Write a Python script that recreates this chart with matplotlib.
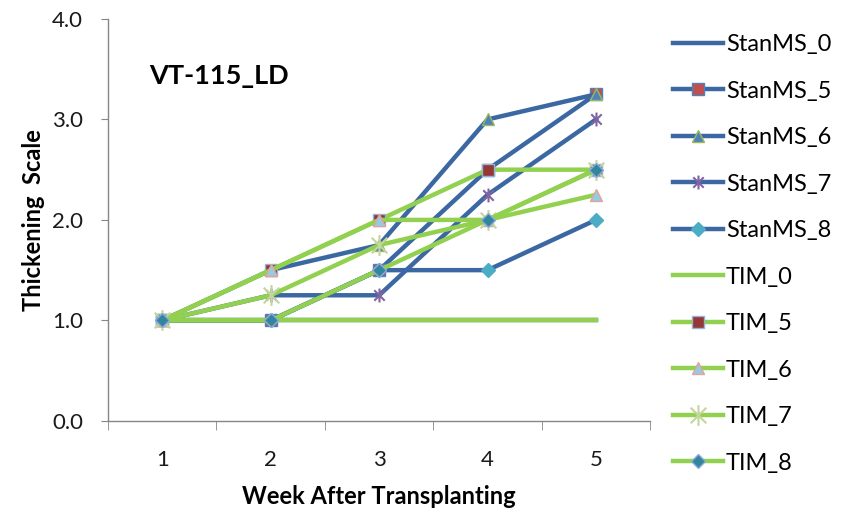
import matplotlib
matplotlib.use("Agg")
import matplotlib.pyplot as plt
from matplotlib.path import Path
from matplotlib.ticker import FixedLocator

plt.rcParams["font.family"] = ["Lato", "DejaVu Sans"]

weeks = [1, 2, 3, 4, 5]
stan_ms_0 = [1.0, 1.0, 1.0, 1.0, 1.0]
stan_ms_5 = [1.0, 1.0, 1.5, 2.5, 3.25]
stan_ms_6 = [1.0, 1.5, 1.75, 3.0, 3.25]
stan_ms_7 = [1.0, 1.25, 1.25, 2.25, 3.0]
stan_ms_8 = [1.0, 1.0, 1.5, 1.5, 2.0]
tim_0 = [1.0, 1.0, 1.0, 1.0, 1.0]
tim_5 = [1.0, 1.5, 2.0, 2.5, 2.5]
tim_6 = [1.0, 1.5, 2.0, 2.0, 2.25]
tim_7 = [1.0, 1.25, 1.75, 2.0, 2.5]
tim_8 = [1.0, 1.0, 1.5, 2.0, 2.5]

# Excel-style asterisk: vertical bar plus an X
star = Path(
    [(0, -1), (0, 1), (-0.75, -0.75), (0.75, 0.75), (-0.75, 0.75), (0.75, -0.75)],
    [Path.MOVETO, Path.LINETO, Path.MOVETO, Path.LINETO, Path.MOVETO, Path.LINETO],
)

BLUE = "#3b68a3"
GREEN = "#92d050"

series = [
    ("StanMS_0", stan_ms_0, BLUE, dict(marker="None")),
    ("StanMS_5", stan_ms_5, BLUE, dict(marker="s", ms=8, mfc="#c0504d", mec="#4f81bd")),
    ("StanMS_6", stan_ms_6, BLUE, dict(marker="^", ms=9, mfc="#4f81bd", mec="#9bbb59")),
    ("StanMS_7", stan_ms_7, BLUE, dict(marker=star, ms=10, mfc="#8064a2", mec="#8064a2", mew=1.5)),
    ("StanMS_8", stan_ms_8, BLUE, dict(marker="D", ms=7, mfc="#4bacc6", mec="#4bacc6")),
    ("TIM_0", tim_0, GREEN, dict(marker="None")),
    ("TIM_5", tim_5, GREEN, dict(marker="s", ms=8, mfc="#953735", mec="#95b3d7")),
    ("TIM_6", tim_6, GREEN, dict(marker="^", ms=9, mfc="#93cddd", mec="#e6a0a0")),
    ("TIM_7", tim_7, GREEN, dict(marker=star, ms=15, mfc="#c3d69b", mec="#c3d69b", mew=1.5)),
    ("TIM_8", tim_8, GREEN, dict(marker="D", ms=7, mfc="#31859c", mec="#8ea9db")),
]

fig = plt.figure(figsize=(8.51, 5.12), dpi=100)
ax = fig.add_axes([0.127, 0.178, 0.637, 0.785])

for name, vals, color, mk in series:
    ax.plot(weeks, vals, color=color, lw=3.2, label=name, **mk)

ax.set_xlim(0.5, 5.5)
ax.set_ylim(0, 4)
ax.set_xticks(weeks)
ax.xaxis.set_minor_locator(FixedLocator([0.5, 1.5, 2.5, 3.5, 4.5, 5.5]))
ax.set_yticks([0, 1, 2, 3, 4])
ax.set_yticklabels(["0.0", "1.0", "2.0", "3.0", "4.0"])

for side in ["top", "right"]:
    ax.spines[side].set_visible(False)
for side in ["left", "bottom"]:
    ax.spines[side].set_color("#868686")
    ax.spines[side].set_linewidth(1.0)

ax.tick_params(axis="x", which="major", length=0, pad=21, labelsize=16, colors="#1a1a1a")
ax.tick_params(axis="x", which="minor", length=6.5, color="#868686")
ax.tick_params(axis="y", length=5, pad=13, labelsize=16, color="#868686", labelcolor="#1a1a1a")

ax.set_xlabel("Week After Transplanting", fontsize=17, fontweight="bold", labelpad=11)
ax.set_ylabel("Thickening  Scale", fontsize=17, fontweight="bold", labelpad=5)
ax.text(0.075, 0.857, "VT-115_LD", transform=ax.transAxes, fontsize=19.5,
        fontweight="bold", va="center", ha="left")

fig.legend(loc="upper left", bbox_to_anchor=(0.766, 0.975), frameon=False,
           fontsize=17, handlelength=2.1, handletextpad=0.13, labelspacing=1.08,
           numpoints=1)

fig.savefig("out.png", dpi=100)
